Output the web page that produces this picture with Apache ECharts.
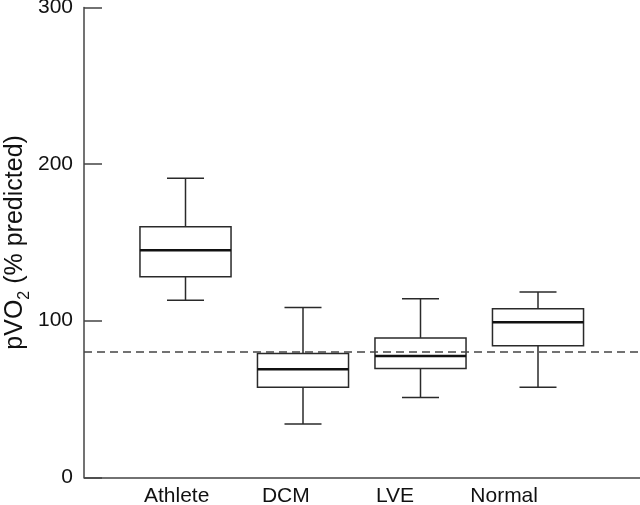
<!DOCTYPE html>
<html>
<head>
<meta charset="utf-8">
<script src="https://cdn.jsdelivr.net/npm/echarts@6/dist/echarts.min.js"></script>
<style>
html,body{margin:0;padding:0;background:#fff;}
#c{width:640px;height:505px;}
</style>
</head>
<body>
<div id="c"></div>
<script>
// Data
var categories = ['Athlete', 'DCM', 'LVE', 'Normal'];
// [min, Q1, median, Q3, max]
var athlete = [113, 128, 145, 160, 191];
var dcm = [34, 57.5, 69, 79, 108.5];
var lve = [51, 69.5, 77.5, 89, 114];
var normal = [57.5, 84, 99, 107.7, 118.3];
var referenceLevel = 80;
var yTicks = [0, 100, 200, 300];

var groups = [athlete, dcm, lve, normal];
var boxData = groups.map(function (g, i) { return [i].concat(g); });

var chart = echarts.init(document.getElementById('c'), null, {renderer: 'canvas'});
var FONT = 'Liberation Sans, Arial, Helvetica, sans-serif';
var INK = '#2a2a2a';

function renderBox(params, api) {
  var x = api.value(0);
  var lo = api.coord([x, api.value(1)]);
  var q1 = api.coord([x, api.value(2)]);
  var md = api.coord([x, api.value(3)]);
  var q3 = api.coord([x, api.value(4)]);
  var hi = api.coord([x, api.value(5)]);
  var band = api.size([1, 0])[0];
  var bw = band * 0.775;
  var cw = band * 0.315;
  var cx = lo[0];
  var st = {stroke: INK, lineWidth: 1.5, fill: null};
  return {
    type: 'group',
    children: [
      {type: 'line', shape: {x1: cx, y1: hi[1], x2: cx, y2: q3[1]}, style: st},
      {type: 'line', shape: {x1: cx, y1: q1[1], x2: cx, y2: lo[1]}, style: st},
      {type: 'line', shape: {x1: cx - cw / 2, y1: hi[1], x2: cx + cw / 2, y2: hi[1]}, style: st},
      {type: 'line', shape: {x1: cx - cw / 2, y1: lo[1], x2: cx + cw / 2, y2: lo[1]}, style: st},
      {type: 'rect', shape: {x: cx - bw / 2, y: q3[1], width: bw, height: q1[1] - q3[1]},
        style: {stroke: INK, lineWidth: 1.5, fill: 'rgba(0,0,0,0)'}},
      {type: 'line', shape: {x1: cx - bw / 2, y1: md[1], x2: cx + bw / 2, y2: md[1]},
        style: {stroke: '#111', lineWidth: 2.6}}
    ]
  };
}

var option = {
  animation: false,
  backgroundColor: '#fff',
  grid: [
    {left: 84, right: 0, top: 7.5, bottom: 27.7, outerBoundsMode: 'none', containLabel: false},
    {left: 126.75, width: 470, top: 7.5, bottom: 27.7, outerBoundsMode: 'none', containLabel: false},
    {left: 122.1, width: 436.6, top: 7.5, bottom: 27.7, outerBoundsMode: 'none', containLabel: false}
  ],
  xAxis: [
    {gridIndex: 0, type: 'value', min: 0, max: 1,
      axisLine: {show: true, onZero: false, lineStyle: {color: '#444', width: 1.5}},
      axisTick: {show: false}, axisLabel: {show: false}, splitLine: {show: false}},
    {gridIndex: 1, type: 'category', data: categories, boundaryGap: true,
      axisLine: {show: false}, axisTick: {show: false}, axisLabel: {show: false}, splitLine: {show: false}},
    {gridIndex: 2, type: 'category', data: categories, boundaryGap: true,
      axisLine: {show: false}, axisTick: {show: false}, splitLine: {show: false},
      axisLabel: {show: true, margin: 8, fontSize: 21, color: '#111', fontFamily: FONT}}
  ],
  yAxis: [
    {gridIndex: 0, type: 'value', min: yTicks[0], max: yTicks[yTicks.length - 1], interval: 100,
      axisLine: {show: true, onZero: false, lineStyle: {color: '#444', width: 1.5}},
      axisTick: {show: true, inside: true, length: 18, lineStyle: {color: '#444', width: 1.5}},
      axisLabel: {show: true, margin: 11, fontSize: 21, color: '#111', fontFamily: FONT},
      splitLine: {show: false},
      name: '{a|pVO}{s|2}{a| (% predicted)}',
      nameLocation: 'middle', nameGap: 56, nameMoveOverlap: false,
      nameTextStyle: {
        color: '#111', fontFamily: FONT,
        rich: {
          a: {fontSize: 25, color: '#111', fontFamily: FONT},
          s: {fontSize: 16, color: '#111', fontFamily: FONT, verticalAlign: 'bottom', padding: [0, 0, -5, 0]}
        }
      }},
    {gridIndex: 1, type: 'value', min: 0, max: 300, show: false},
    {gridIndex: 2, type: 'value', min: 0, max: 300, show: false}
  ],
  series: [
    {type: 'line', xAxisIndex: 0, yAxisIndex: 0, symbol: 'none', silent: true,
      data: [[0, referenceLevel], [1, referenceLevel]],
      lineStyle: {color: '#444', width: 1.5, type: [8, 5]}},
    {type: 'custom', xAxisIndex: 1, yAxisIndex: 1, renderItem: renderBox,
      encode: {x: 0, y: [1, 2, 3, 4, 5]}, data: boxData, z: 3}
  ]
};
chart.setOption(option);
</script>
</body>
</html>
